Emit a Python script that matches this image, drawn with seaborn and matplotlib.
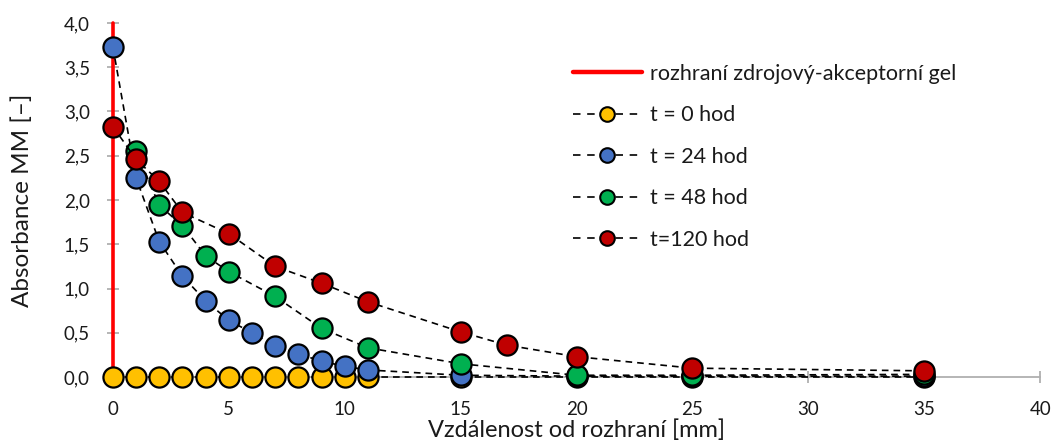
import numpy as np
import pandas as pd
import matplotlib
matplotlib.use("Agg")
import matplotlib.pyplot as plt
from matplotlib.lines import Line2D
import seaborn as sns

# data
x_t0 = [0, 1, 2, 3, 4, 5, 6, 7, 8, 9, 10, 11, 15, 20, 25, 35]
y_t0 = [0.0] * 16

x_t24 = [0, 1, 2, 3, 4, 5, 6, 7, 8, 9, 10, 11, 15, 20, 25, 35]
y_t24 = [3.73, 2.25, 1.53, 1.14, 0.86, 0.64, 0.50, 0.35, 0.26, 0.18, 0.12, 0.08, 0.02, 0.01, 0.01, 0.01]

x_t48 = [1, 2, 3, 4, 5, 7, 9, 11, 15, 20, 25, 35]
y_t48 = [2.55, 1.94, 1.71, 1.37, 1.19, 0.91, 0.55, 0.33, 0.15, 0.02, 0.02, 0.03]

x_t120 = [0, 1, 2, 3, 5, 7, 9, 11, 15, 17, 20, 25, 35]
y_t120 = [2.83, 2.46, 2.21, 1.86, 1.62, 1.25, 1.06, 0.85, 0.51, 0.36, 0.23, 0.10, 0.07]

series_labels = ["t = 0 hod", "t = 24 hod", "t = 48 hod", "t=120 hod"]
series_colors = ["#FFC000", "#4472C4", "#00B050", "#C00000"]
interface_label = "rozhraní zdrojový-akceptorní gel"

x_ticks = [0, 5, 10, 15, 20, 25, 30, 35, 40]
y_ticks = [0.0, 0.5, 1.0, 1.5, 2.0, 2.5, 3.0, 3.5, 4.0]
y_tick_labels = ["0,0", "0,5", "1,0", "1,5", "2,0", "2,5", "3,0", "3,5", "4,0"]

sns.set_style("white")
plt.rcParams["font.family"] = ["Lato", "DejaVu Sans"]
txt = "#1a1a1a"

fig = plt.figure(figsize=(10.55, 4.42), dpi=100)
ax = fig.add_axes([0.107, 0.147, 0.879, 0.801])

# red interface line
ax.plot([0, 0], [0, 4], color="#FF0000", lw=2.6, zorder=2.8, clip_on=False)

frames = []
for xs, ys, lab in zip([x_t0, x_t24, x_t48, x_t120], [y_t0, y_t24, y_t48, y_t120], series_labels):
    frames.append(pd.DataFrame({"x": xs, "y": ys, "serie": lab}))
df = pd.concat(frames, ignore_index=True)

for i, lab in enumerate(series_labels):
    sub = df[df["serie"] == lab]
    sns.lineplot(data=sub, x="x", y="y", ax=ax, color="black", lw=1.2,
                 linestyle=(0, (4, 3)), marker="o", markersize=14.5,
                 markerfacecolor=series_colors[i], markeredgecolor="black",
                 markeredgewidth=1.6, sort=False, zorder=3 + i, legend=False,
                 clip_on=False)

ax.set_xticks(x_ticks)
ax.set_yticks(y_ticks)
ax.set_yticklabels(y_tick_labels)
ax.set_xlim(0, 40)
ax.set_ylim(0, 4.0)

for s in ["top", "right"]:
    ax.spines[s].set_visible(False)
ax.spines["bottom"].set_color("#B0B0B0")
ax.spines["left"].set_color("#B0B0B0")
ax.spines["bottom"].set_linewidth(1.3)
ax.spines["left"].set_linewidth(1.3)
ax.tick_params(axis="both", direction="inout", length=9, width=1.3, color="#B0B0B0",
               labelsize=13.5, labelcolor=txt, bottom=True, left=True)
ax.tick_params(axis="x", pad=13)
ax.tick_params(axis="y", pad=12)

ax.set_xlabel("Vzdálenost od rozhraní [mm]", fontsize=17, color=txt, labelpad=1)
ax.set_ylabel("Absorbance MM [–]", fontsize=17.5, color=txt, labelpad=22)

handles = [Line2D([0], [0], color="#FF0000", lw=3.2)]
for c in series_colors:
    handles.append(Line2D([0], [0], color="black", lw=1.2, linestyle=(0, (4.5, 4)),
                          marker="o", markersize=10.5, markerfacecolor=c,
                          markeredgecolor="black", markeredgewidth=1.5))
leg = ax.legend(handles, [interface_label] + series_labels, loc="upper left",
                bbox_to_anchor=(0.475, 0.94), frameon=False, fontsize=15.5,
                handlelength=3.2, handletextpad=0.4, labelspacing=1.0)
for t in leg.get_texts():
    t.set_color(txt)

fig.savefig("out.png", dpi=100)
